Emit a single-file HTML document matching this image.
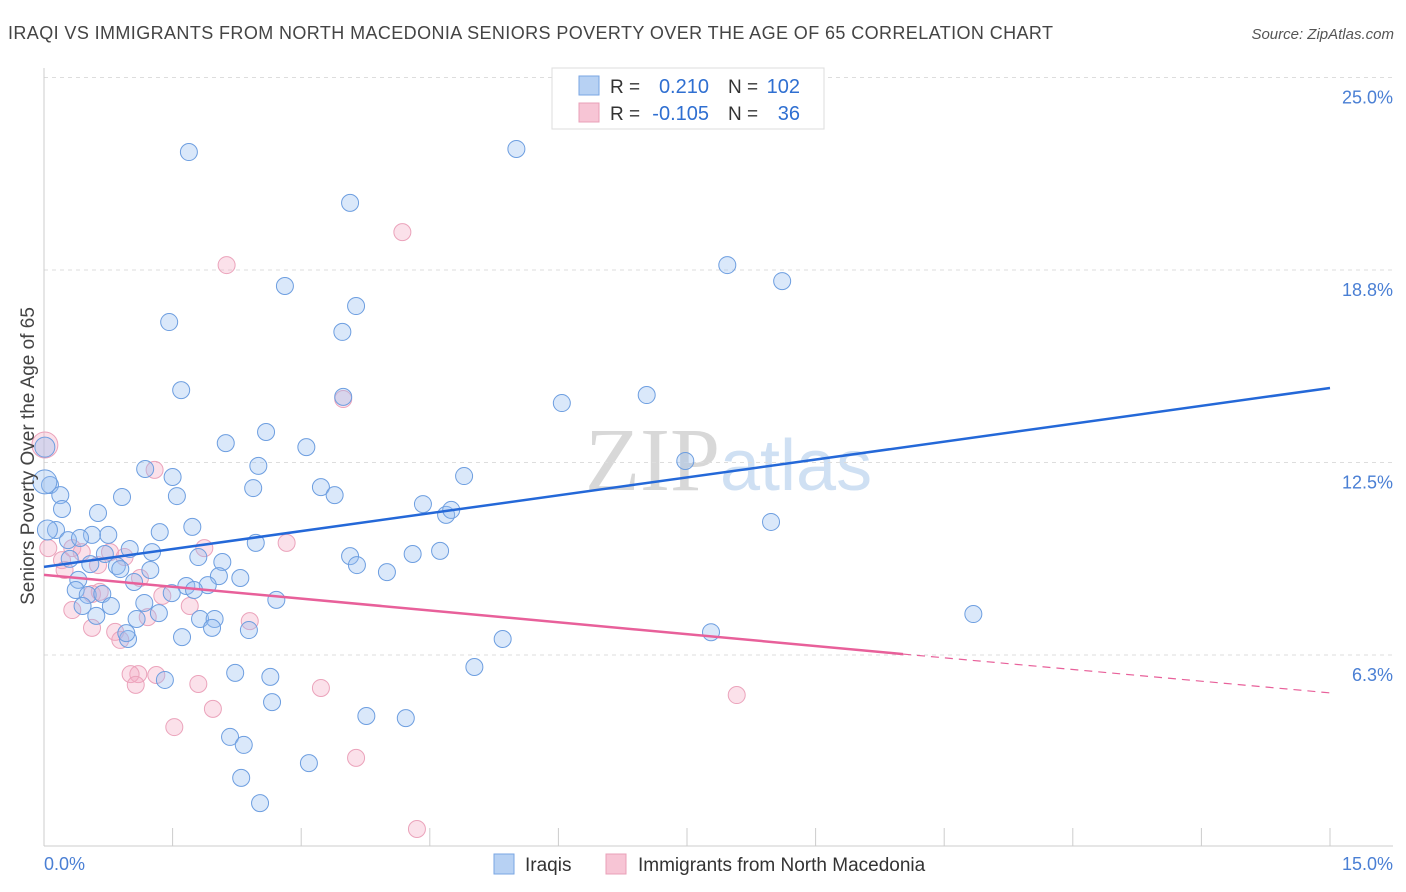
<!DOCTYPE html>
<html><head><meta charset="utf-8"><style>
body{margin:0;background:#fff;font-family:"Liberation Sans",sans-serif;}
svg{display:block}
</style></head><body>
<svg width="1406" height="892">
<text x="8" y="39" font-size="18" fill="#444" letter-spacing="0.4">IRAQI VS IMMIGRANTS FROM NORTH MACEDONIA SENIORS POVERTY OVER THE AGE OF 65 CORRELATION CHART</text>
<text x="1394" y="39" font-size="15" font-style="italic" fill="#555" text-anchor="end">Source: ZipAtlas.com</text>
<text x="720" y="490" font-size="90" fill="#d8d8d8" text-anchor="end" font-family="Liberation Serif">ZIP</text>
<text x="720" y="490" font-size="72" fill="#cfe0f3">atlas</text>
<g id="grid"></g><g id="axes"></g><g id="pts"></g><g id="lines"></g>
<text x="34" y="456" font-size="19" fill="#444" text-anchor="middle" transform="rotate(-90 34 456)">Seniors Poverty Over the Age of 65</text>
<text x="44" y="870" font-size="18" fill="#4a7fd4">0.0%</text>
<text x="1393" y="870" font-size="18" fill="#4a7fd4" text-anchor="end">15.0%</text>
<g>
<rect x="552" y="68" width="272" height="61" fill="#fff" stroke="#ddd"/>
<rect x="579" y="76" width="20" height="19" fill="#b7d1f3" stroke="#7aa6e3"/>
<rect x="579" y="103" width="20" height="19" fill="#f7c5d5" stroke="#eaa0b8"/>
<text x="610" y="93" font-size="19" fill="#333">R =</text>
<text x="709" y="93" font-size="20" fill="#2f6fd1" text-anchor="end">0.210</text>
<text x="728" y="93" font-size="19" fill="#333">N =</text>
<text x="800" y="93" font-size="20" fill="#2f6fd1" text-anchor="end">102</text>
<text x="610" y="120" font-size="19" fill="#333">R =</text>
<text x="709" y="120" font-size="20" fill="#2f6fd1" text-anchor="end">-0.105</text>
<text x="728" y="120" font-size="19" fill="#333">N =</text>
<text x="800" y="120" font-size="20" fill="#2f6fd1" text-anchor="end">36</text>
</g>
<g>
<rect x="494" y="854" width="20" height="20" fill="#b7d1f3" stroke="#7aa6e3"/>
<text x="525" y="871" font-size="19" fill="#333">Iraqis</text>
<rect x="606" y="854" width="20" height="20" fill="#f7c5d5" stroke="#eaa0b8"/>
<text x="638" y="871" font-size="19" fill="#333">Immigrants from North Macedonia</text>
</g>
</svg>
<script>
const yTicks=[25,18.75,12.5,6.25];
const yTickLabels=["25.0%","18.8%","12.5%","6.3%"];
const xTicks=[0,1.5,3,4.5,6,7.5,9,10.5,12,13.5,15];
const iraqX=[1.69,5.51,3.57,2.81,3.64,3.48,1.46,7.97,8.61,1.60,3.49,6.04,7.03,2.12,2.59,3.06,1.18,1.50,2.50,4.90,7.48,2.44,3.23,3.39,1.55,0.91,0.01,0.07,0.19,0.21,0.63,0.14,4.42,4.69,4.75,8.48,1.35,1.73,0.28,0.56,0.75,0.42,2.47,3.57,3.65,4.00,4.30,4.62,1.26,1.00,0.71,0.85,0.89,0.54,0.30,2.08,1.80,2.04,2.29,1.24,0.40,1.05,1.66,1.91,1.75,1.49,0.37,0.51,0.68,1.17,2.71,0.45,0.78,0.61,1.08,1.34,1.82,1.99,1.96,2.39,1.61,0.98,0.96,5.35,7.78,10.84,5.02,1.41,2.23,2.64,2.66,3.76,4.22,2.17,2.33,3.09,2.30,2.52,0.01,0.04];
const iraqY=[22.58,22.68,20.93,18.23,17.58,16.74,17.06,18.91,18.39,14.85,14.63,14.43,14.69,13.13,13.49,13.00,12.29,12.03,12.39,12.06,12.55,11.67,11.70,11.44,11.41,11.38,13.00,11.77,11.44,10.99,10.86,10.31,11.15,10.80,10.96,10.57,10.24,10.41,9.98,10.15,10.15,10.05,9.89,9.46,9.17,8.94,9.53,9.63,9.59,9.69,9.53,9.14,9.04,9.20,9.37,9.27,9.43,8.81,8.75,9.01,8.69,8.62,8.49,8.52,8.36,8.26,8.36,8.20,8.23,7.94,8.04,7.84,7.84,7.52,7.42,7.61,7.42,7.42,7.13,7.06,6.83,6.77,6.96,6.77,6.99,7.58,5.86,5.44,5.67,5.54,4.72,4.27,4.20,3.59,3.33,2.74,2.26,1.44,11.87,10.31];
const macX=[4.18,2.13,3.49,1.29,0.01,0.05,0.33,0.44,0.21,0.77,0.94,1.12,0.63,1.87,2.83,0.24,0.56,0.65,1.38,1.70,0.33,1.21,2.40,0.56,0.83,0.89,1.10,1.01,1.31,1.07,1.80,3.23,1.97,1.52,8.08,3.64,4.35];
const macY=[19.98,18.91,14.56,12.26,13.07,9.72,9.72,9.59,9.33,9.59,9.43,8.75,9.17,9.72,9.89,9.01,8.23,8.30,8.17,7.84,7.71,7.48,7.35,7.13,7.00,6.74,5.63,5.63,5.60,5.28,5.31,5.18,4.50,3.91,4.95,2.91,0.60];
const iraqLine=[9.11,14.92];
const macLine=[8.85,6.28,5.02];
const macSolidEnd=10.02;
const NS="http://www.w3.org/2000/svg";
const sx=v=>44+v*(1286/15), sy=v=>847.5-v*30.8;
function mk(p,tag,a){const e=document.createElementNS(NS,tag);for(const k in a)e.setAttribute(k,a[k]);document.getElementById(p).appendChild(e);return e;}
yTicks.forEach((t,i)=>{
 const l=mk('grid','line',{x1:44,x2:1393,y1:sy(t),y2:sy(t),stroke:'#ddd','stroke-dasharray':'4,4'});
 
 
 const tx=mk('grid','text',{x:1393,y:sy(t)+26,'font-size':18,fill:'#4a7fd4','text-anchor':'end'});
 tx.textContent=yTickLabels[i];
 
 
});
const ax=mk('axes','line',{x1:44,x2:1393,y1:846,y2:846,stroke:'#ccc'});


const ay=mk('axes','line',{x1:44,x2:44,y1:68,y2:846,stroke:'#ccc'});


xTicks.forEach(t=>{const k=mk('axes','line',{x1:sx(t),x2:sx(t),y1:828,y2:846,stroke:'#ccc'});
 
 });
macX.forEach((x,i)=>{const r=i===4?13:8.5;
 const c=mk('pts','circle',{cx:sx(x),cy:sy(macY[i]),r:r,fill:'rgba(244,168,194,0.35)',stroke:'#eba3bb','stroke-width':1});
 
 });
iraqX.forEach((x,i)=>{const r=i===98?12:(i===99||i===26?10:8.5);
 const c=mk('pts','circle',{cx:sx(x),cy:sy(iraqY[i]),r:r,fill:'rgba(150,190,240,0.35)',stroke:'#6d9ee0','stroke-width':1});
 
 });
const bl=mk('lines','line',{x1:sx(0),y1:sy(iraqLine[0]),x2:sx(15),y2:sy(iraqLine[1]),stroke:'#2468d8','stroke-width':2.5});


const pl=mk('lines','line',{x1:sx(0),y1:sy(macLine[0]),x2:sx(macSolidEnd),y2:sy(macLine[1]),stroke:'#e8609a','stroke-width':2.5});


const pd=mk('lines','line',{x1:sx(macSolidEnd),y1:sy(macLine[1]),x2:sx(15),y2:sy(macLine[2]),stroke:'#e8609a','stroke-width':1.2,'stroke-dasharray':'8,6'});


</script>
</body></html>
